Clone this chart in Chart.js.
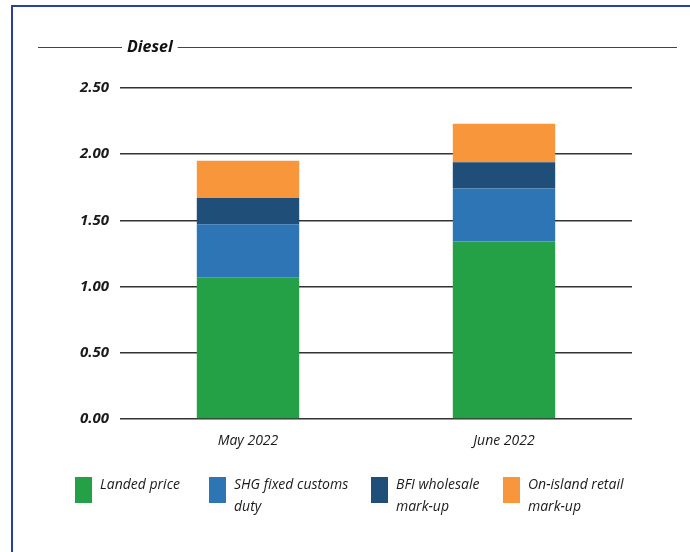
<!DOCTYPE html>
<html>
<head>
<meta charset="utf-8">
<script src="https://cdn.jsdelivr.net/npm/chart.js@4.4.1/dist/chart.umd.min.js"></script>
<style>
  html, body { margin: 0; padding: 0; background: #fff; }
  #wrap { position: relative; width: 690px; height: 552px; overflow: hidden; }
  #frame { position: absolute; left: 11px; top: 5px; width: 700px; height: 600px;
           border-left: 2px solid #2b3f9e; border-top: 2px solid #2b3f9e; }
  #c { position: absolute; left: 0; top: 0; }
</style>
</head>
<body>
<div id="wrap">
  <div id="frame"></div>
  <canvas id="c" width="690" height="552"></canvas>
</div>
<script>
// ---------- dados ----------
const categories = ["May 2022", "June 2022"];
const landedPrice = [1.07, 1.34];
const customsDuty = [0.40, 0.40];
const wholesaleMarkup = [0.20, 0.20];
const retailMarkup = [0.28, 0.29];
const legendLines = [
  ["Landed price"],
  ["SHG fixed customs", "duty"],
  ["BFI wholesale", "mark-up"],
  ["On-island retail", "mark-up"],
];
const yTicks = [0, 0.5, 1, 1.5, 2, 2.5];
const chartTitle = "Diesel";

const FONT = "'Open Sans', 'DejaVu Sans', sans-serif";

// ---------- título com linhas ----------
const titlePlugin = {
  id: "titleLines",
  afterDraw(chart) {
    const ctx = chart.ctx;
    ctx.save();
    ctx.font = "italic 700 16px " + FONT;
    ctx.fillStyle = "#111";
    ctx.textBaseline = "middle";
    const tx = 127, ty = 47;
    const w = ctx.measureText(chartTitle).width;
    ctx.fillText(chartTitle, tx, ty);
    ctx.strokeStyle = "#444";
    ctx.lineWidth = 1;
    ctx.beginPath();
    ctx.moveTo(38, ty + 0.5); ctx.lineTo(tx - 5, ty + 0.5);
    ctx.moveTo(tx + w + 5, ty + 0.5); ctx.lineTo(677, ty + 0.5);
    ctx.stroke();
    ctx.restore();
  }
};

// ---------- legenda em duas linhas ----------
const legendPlugin = {
  id: "wrappedLegend",
  afterDraw(chart) {
    const ctx = chart.ctx;
    const xs = [75, 209, 371, 503];
    ctx.save();
    ctx.font = "italic 400 14px " + FONT;
    ctx.textBaseline = "middle";
    chart.data.datasets.forEach((ds, i) => {
      ctx.fillStyle = ds.backgroundColor;
      ctx.fillRect(xs[i], 477, 17, 26);
      ctx.fillStyle = "#1a1a1a";
      legendLines[i].forEach((line, j) => {
        ctx.fillText(line, xs[i] + 25, 485 + j * 22);
      });
    });
    ctx.restore();
  }
};

new Chart(document.getElementById("c"), {
  type: "bar",
  data: {
    labels: categories,
    datasets: [
      { label: legendLines[0].join(" "), data: landedPrice, backgroundColor: "#24a046" },
      { label: legendLines[1].join(" "), data: customsDuty, backgroundColor: "#2e75b6" },
      { label: legendLines[2].join(" "), data: wholesaleMarkup, backgroundColor: "#1f4e79" },
      { label: legendLines[3].join(" "), data: retailMarkup, backgroundColor: "#f7963b" },
    ],
  },
  options: {
    responsive: false,
    animation: false,
    barPercentage: 0.8,
    categoryPercentage: 0.5,
    layout: { padding: { top: 88, right: 58, left: 0, bottom: 0 } },
    plugins: {
      legend: { display: false },
      tooltip: { enabled: false },
    },
    scales: {
      x: {
        stacked: true,
        grid: { display: false },
        border: { display: false },
        ticks: { color: "#1a1a1a", padding: 6, font: { family: FONT, size: 14, style: "italic" } },
        afterFit(scale) { scale.height = 133; },
      },
      y: {
        stacked: true,
        min: 0,
        max: 2.5,
        afterBuildTicks(scale) { scale.ticks = yTicks.map((v) => ({ value: v })); },
        grid: { color: "#333", lineWidth: 1.5, drawTicks: false },
        border: { display: false },
        ticks: {
          color: "#1a1a1a",
          padding: 11,
          font: { family: FONT, size: 15, style: "italic", weight: "700" },
          callback: (v) => Number(v).toFixed(2),
        },
        afterFit(scale) { scale.width = 120; },
      },
    },
  },
  plugins: [titlePlugin, legendPlugin],
});
</script>
</body>
</html>
